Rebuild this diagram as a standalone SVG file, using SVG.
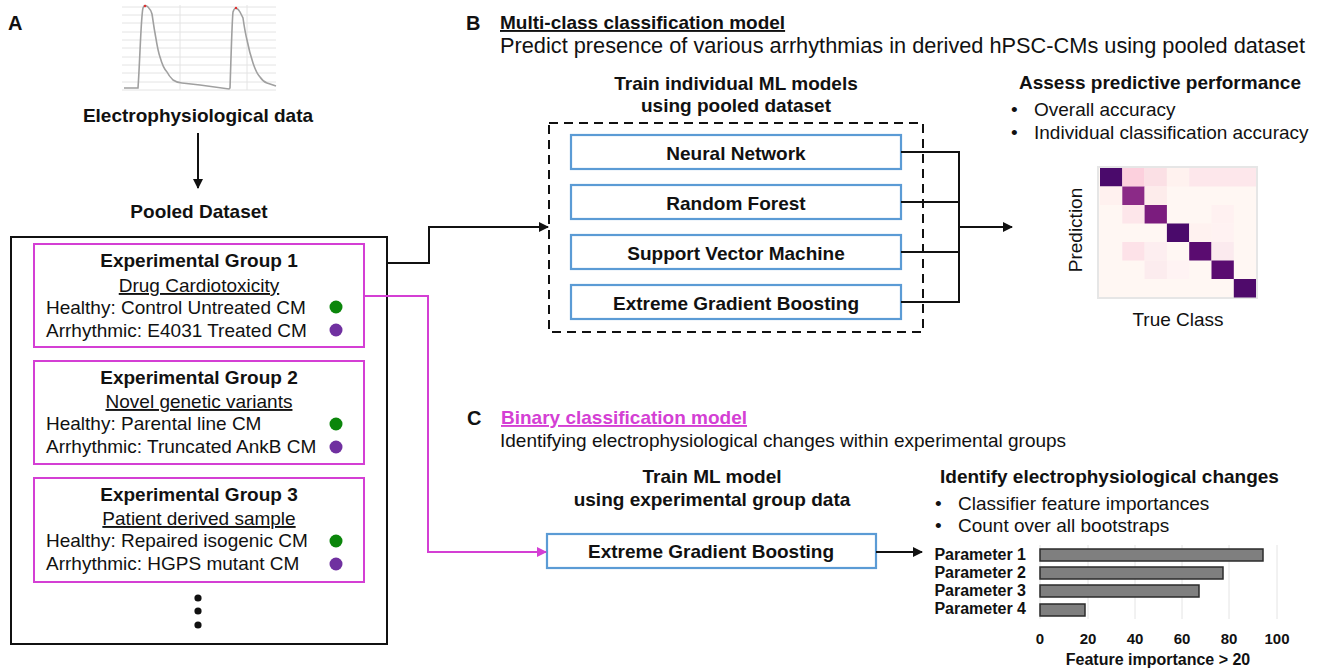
<svg xmlns="http://www.w3.org/2000/svg" width="1323" height="669" viewBox="0 0 1323 669">
<style>
text{font-family:"Liberation Sans",Arial,sans-serif;fill:#111;}
.b{font-weight:bold;}
.t19{font-size:19px;}
.lbl{font-size:20px;font-weight:bold;}
.mid{text-anchor:middle;}
.u{text-decoration:underline;}
.grp{fill:#fff;stroke:#d43fd4;stroke-width:2;}
.blue{fill:#fff;stroke:#5b9bd5;stroke-width:2.2;}
.conn{fill:none;stroke:#111;stroke-width:2;}
.mag{fill:none;stroke:#d43fd4;stroke-width:2;}
.grid{stroke:#e4e4e4;stroke-width:1;}
.bar{fill:#7f7f7f;stroke:#2b2b2b;stroke-width:1.5;}
.pl{font-size:16px;font-weight:bold;text-anchor:end;}
.tick{font-size:15px;font-weight:bold;text-anchor:middle;}
.g{fill:#0b860b;}
.p{fill:#7030a0;}
</style>
<defs>
<marker id="ah" markerWidth="10" markerHeight="10" refX="9" refY="5" orient="auto" markerUnits="userSpaceOnUse">
<path d="M0,0 L10,5 L0,10 Z" fill="#111"/>
</marker>
<marker id="ahm" markerWidth="10" markerHeight="10" refX="9" refY="5" orient="auto" markerUnits="userSpaceOnUse">
<path d="M0,0 L10,5 L0,10 Z" fill="#d43fd4"/>
</marker>
</defs>
<rect width="1323" height="669" fill="#fff"/>

<!-- Panel A -->
<g id="panelA-label"><text class="lbl" x="8" y="30">A</text></g>
<g id="trace">
<g class="grid">
<line x1="122" y1="7" x2="276" y2="7"/><line x1="122" y1="15" x2="276" y2="15"/><line x1="122" y1="23" x2="276" y2="23"/><line x1="122" y1="32" x2="276" y2="32"/><line x1="122" y1="40" x2="276" y2="40"/><line x1="122" y1="48" x2="276" y2="48"/><line x1="122" y1="57" x2="276" y2="57"/><line x1="122" y1="65" x2="276" y2="65"/><line x1="122" y1="73" x2="276" y2="73"/><line x1="122" y1="82" x2="276" y2="82"/><line x1="122" y1="90" x2="276" y2="90"/>
<line x1="180" y1="5" x2="180" y2="90"/><line x1="247" y1="5" x2="247" y2="90"/>
</g>
<path d="M124,88 L138,88 C140,60 141,15 143,8 C144,5 146,5 148,7 C150,9 151,10 152,14 C153,20 154,28 155,33 C157,45 158,52 160,57 C162,64 164,69 167,72 C169,76 171,78 173,80 C176,82 179,83 182,83 L200,85 L229,89 L230,88 C231,60 232,20 233,12 C234,9 235,8 236,8 C238,9 239,10 240,12 C241,14 242,16 243,18 C244,25 245,32 247,40 C249,50 251,57 253,63 C255,69 257,74 260,77 C262,80 264,82 267,83 C270,84 273,85 276,86" fill="none" stroke="#a0a0a0" stroke-width="1.6"/>
<circle cx="145" cy="6" r="1.2" fill="#e03030"/><circle cx="236" cy="8" r="1.2" fill="#e03030"/>
</g>
<g id="ephys"><text class="b t19 mid" x="198" y="122">Electrophysiological data</text></g>
<g id="pooled"><text class="b t19 mid" x="199" y="218">Pooled Dataset</text></g>
<g id="pooled-box">
<rect x="11" y="237" width="376" height="407" fill="none" stroke="#111" stroke-width="2"/>
<circle cx="198" cy="598" r="3.6" fill="#111"/><circle cx="198" cy="611" r="3.6" fill="#111"/><circle cx="198" cy="625" r="3.6" fill="#111"/>
</g>
<g id="group1">
<rect class="grp" x="34" y="244" width="330" height="103"/>
<text class="b t19 mid" x="199" y="267">Experimental Group 1</text>
<text class="t19 mid u" x="199" y="292">Drug Cardiotoxicity</text>
<text class="t19" x="46" y="314">Healthy: Control Untreated CM</text>
<text class="t19" x="46" y="337">Arrhythmic: E4031 Treated CM</text>
<circle class="g" cx="336" cy="307" r="6.5"/><circle class="p" cx="336" cy="330" r="6.5"/>
</g>
<g id="group2">
<rect class="grp" x="34" y="361" width="330" height="103"/>
<text class="b t19 mid" x="199" y="384">Experimental Group 2</text>
<text class="t19 mid u" x="199" y="408">Novel genetic variants</text>
<text class="t19" x="46" y="430">Healthy: Parental line CM</text>
<text class="t19" x="46" y="453">Arrhythmic: Truncated AnkB CM</text>
<circle class="g" cx="336" cy="424" r="6.5"/><circle class="p" cx="336" cy="447" r="6.5"/>
</g>
<g id="group3">
<rect class="grp" x="34" y="478" width="330" height="104"/>
<text class="b t19 mid" x="199" y="501">Experimental Group 3</text>
<text class="t19 mid u" x="199" y="525">Patient derived sample</text>
<text class="t19" x="46" y="547">Healthy: Repaired isogenic CM</text>
<text class="t19" x="46" y="570">Arrhythmic: HGPS mutant CM</text>
<circle class="g" cx="336" cy="541" r="6.5"/><circle class="p" cx="336" cy="564" r="6.5"/>
</g>

<!-- Panel B -->
<g id="panelB-head">
<text class="lbl" x="466" y="30">B</text>
<text class="b t19 u" x="500" y="29">Multi-class classification model</text>
<text x="500" y="53" style="font-size:21.5px" textLength="805" lengthAdjust="spacingAndGlyphs">Predict presence of various arrhythmias in derived hPSC-CMs using pooled dataset</text>
</g>
<g id="train-title">
<text class="b t19 mid" x="736" y="90">Train individual ML models</text>
<text class="b t19 mid" x="736" y="112">using pooled dataset</text>
</g>
<g id="models-box"><rect x="549" y="123" width="374" height="209" fill="none" stroke="#111" stroke-width="2" stroke-dasharray="9,6"/></g>
<g id="nn"><rect class="blue" x="571" y="135" width="330" height="34"/><text class="b t19 mid" x="736" y="160">Neural Network</text></g>
<g id="rf"><rect class="blue" x="571" y="185" width="330" height="34"/><text class="b t19 mid" x="736" y="210">Random Forest</text></g>
<g id="svm"><rect class="blue" x="571" y="235" width="330" height="34"/><text class="b t19 mid" x="736" y="260">Support Vector Machine</text></g>
<g id="xgb"><rect class="blue" x="571" y="285" width="330" height="34"/><text class="b t19 mid" x="736" y="310">Extreme Gradient Boosting</text></g>
<g id="assess">
<text class="b t19" x="1019" y="89">Assess predictive performance</text>
<text class="t19" x="1011" y="116">•</text><text class="t19" x="1034" y="116">Overall accuracy</text>
<text class="t19" x="1011" y="139">•</text><text class="t19" x="1034" y="139">Individual classification accuracy</text>
</g>
<g id="confusion">
<rect x="1098" y="167" width="159" height="131" fill="#fff7f3" stroke="#e6e6e6" stroke-width="2"/>
<g>
<rect x="1100" y="168" width="22.3" height="18.5" fill="#4a0a6b"/>
<rect x="1122.3" y="168" width="22.3" height="18.5" fill="#fcd0dd"/>
<rect x="1144.6" y="168" width="22.3" height="18.5" fill="#fbe0e5"/>
<rect x="1166.9" y="168" width="22.3" height="18.5" fill="#fff2ef"/>
<rect x="1189.2" y="168" width="66.8" height="18.5" fill="#fde7eb"/>
<rect x="1100" y="186.5" width="22.3" height="18.5" fill="#fff1ef"/>
<rect x="1122.3" y="186.5" width="22.3" height="18.5" fill="#8b2a87"/>
<rect x="1144.6" y="186.5" width="22.3" height="18.5" fill="#fdeceb"/>
<rect x="1122.3" y="205" width="22.3" height="18.5" fill="#fde6ea"/>
<rect x="1144.6" y="205" width="22.3" height="18.5" fill="#7b1c7e"/>
<rect x="1211.5" y="205" width="22.3" height="18.5" fill="#fff1f1"/>
<rect x="1166.9" y="223.5" width="22.3" height="18.5" fill="#4a0a6b"/>
<rect x="1189.2" y="223.5" width="22.3" height="18.5" fill="#fff2f0"/>
<rect x="1211.5" y="223.5" width="22.3" height="18.5" fill="#fff2f2"/>
<rect x="1122.3" y="242" width="22.3" height="18.5" fill="#fde2e8"/>
<rect x="1144.6" y="242" width="22.3" height="18.5" fill="#fdeef0"/>
<rect x="1189.2" y="242" width="22.3" height="18.5" fill="#5a0c70"/>
<rect x="1211.5" y="242" width="22.3" height="18.5" fill="#fbeaee"/>
<rect x="1144.6" y="260.5" width="22.3" height="18.5" fill="#fcecee"/>
<rect x="1166.9" y="260.5" width="22.3" height="18.5" fill="#fff3f3"/>
<rect x="1211.5" y="260.5" width="22.3" height="18.5" fill="#5a0c70"/>
<rect x="1233.8" y="279" width="22.2" height="18.5" fill="#4f0a6b"/>
</g>
<text class="t19 mid" transform="translate(1082,230) rotate(-90)">Prediction</text>
<text class="t19 mid" x="1178" y="326">True Class</text>
</g>

<!-- Panel C -->
<g id="panelC-head">
<text class="lbl" x="467" y="425">C</text>
<text class="b t19 u" x="501" y="424" style="fill:#d43fd4">Binary classification model</text>
<text class="t19" x="500" y="447">Identifying electrophysiological changes within experimental groups</text>
</g>
<g id="trainC">
<text class="b t19 mid" x="712" y="483">Train ML model</text>
<text class="b t19 mid" x="712" y="506">using experimental group data</text>
</g>
<g id="xgbC"><rect class="blue" x="547" y="534" width="329" height="34"/><text class="b t19 mid" x="711" y="558">Extreme Gradient Boosting</text></g>
<g id="identify">
<text class="b t19" x="940" y="483">Identify electrophysiological changes</text>
<text class="t19" x="935" y="510">•</text><text class="t19" x="958" y="510">Classifier feature importances</text>
<text class="t19" x="935" y="532">•</text><text class="t19" x="958" y="532">Count over all bootstraps</text>
</g>
<g id="barchart">
<g class="grid">
<line x1="1040" y1="545" x2="1040" y2="619"/><line x1="1088" y1="545" x2="1088" y2="619"/><line x1="1135" y1="545" x2="1135" y2="619"/><line x1="1182" y1="545" x2="1182" y2="619"/><line x1="1229" y1="545" x2="1229" y2="619"/><line x1="1277" y1="545" x2="1277" y2="619"/>
</g>
<rect class="bar" x="1040" y="549" width="223" height="12"/>
<rect class="bar" x="1040" y="567" width="183" height="12"/>
<rect class="bar" x="1040" y="585" width="159" height="12"/>
<rect class="bar" x="1040" y="604" width="45" height="12"/>
<text class="pl" x="1026" y="560">Parameter 1</text>
<text class="pl" x="1026" y="578">Parameter 2</text>
<text class="pl" x="1026" y="596">Parameter 3</text>
<text class="pl" x="1026" y="614">Parameter 4</text>
<text class="tick" x="1040" y="644">0</text>
<text class="tick" x="1088" y="644">20</text>
<text class="tick" x="1135" y="644">40</text>
<text class="tick" x="1182" y="644">60</text>
<text class="tick" x="1229" y="644">80</text>
<text class="tick" x="1277" y="644">100</text>
<text class="b mid" style="font-size:16px" x="1158" y="665">Feature importance &gt; 20</text>
</g>

<!-- Connectors -->
<g id="connectors">
<line class="conn" x1="198" y1="133" x2="198" y2="188" marker-end="url(#ah)"/>
<polyline class="conn" points="387,263 429,263 429,227 548,227" marker-end="url(#ah)"/>
<polyline class="mag" points="364,296 428,296 428,552 546,552" marker-end="url(#ahm)"/>
<line class="conn" x1="901" y1="152" x2="959" y2="152"/>
<line class="conn" x1="901" y1="202" x2="959" y2="202"/>
<line class="conn" x1="901" y1="252" x2="959" y2="252"/>
<line class="conn" x1="901" y1="302" x2="959" y2="302"/>
<line class="conn" x1="959" y1="151" x2="959" y2="303"/>
<line class="conn" x1="959" y1="227" x2="1012" y2="227" marker-end="url(#ah)"/>
<line class="conn" x1="876" y1="552" x2="922" y2="552" marker-end="url(#ah)"/>
</g>
</svg>
